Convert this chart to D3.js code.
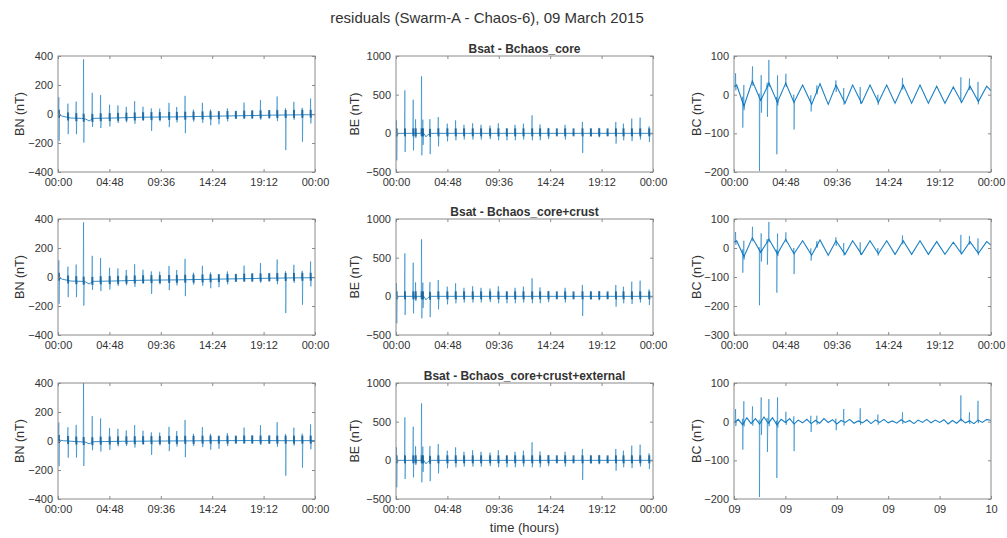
<!DOCTYPE html>
<html>
<head>
<meta charset="utf-8">
<script src="https://cdn.jsdelivr.net/npm/d3@7"></script>
<style>
  body { margin: 0; background: #fff; }
  svg text { font-family: "Liberation Sans", Arial, Helvetica, sans-serif; fill: #333; }
</style>
</head>
<body>
<svg id="fig" width="1007" height="538"></svg>
<script>
// ---- axis ticks and labels -------------------------------------------------
const tickHours = [0, 4.8, 9.6, 14.4, 19.2, 24];
const clockLabels = ["00:00", "04:48", "09:36", "14:24", "19:12", "00:00"];
const dayLabels = ["09", "09", "09", "09", "09", "10"];
const rowTitles = ["Bsat - Bchaos_core", "Bsat - Bchaos_core+crust", "Bsat - Bchaos_core+crust+external"];
const componentLabels = ["BN (nT)", "BE (nT)", "BC (nT)"];

// ---- polar crossings: time (h) and excursion above / below the baseline (nT)
const bnTimes = [0.09, 0.94, 1.71, 2.40, 3.21, 3.99, 4.83, 5.61, 6.39, 7.17, 7.95, 8.73, 9.51, 10.38, 11.10, 11.88,
  12.66, 13.50, 14.25, 15.02, 15.83, 16.61, 17.39, 18.14, 18.92, 19.73, 20.48, 21.26, 22.04, 22.82, 23.60];
const bnHigh = [120, 95, 115, 410, 180, 160, 92, 86, 74, 112, 72, 60, 58, 97, 68, 144,
  48, 94, 47, 25, 52, 28, 90, 36, 106, 36, 128, 46, 90, 48, 112];
const bnLow = [-180, -115, -110, -165, -55, -68, -58, -35, -32, -44, -24, -95, -30, -70, -38, -113,
  -35, -44, -62, -56, -37, -18, -18, -20, -30, -22, -42, -242, -34, -186, -60];

const beTimes = [0.06, 0.84, 1.62, 1.84, 2.40, 2.52, 3.18, 3.96, 4.80, 5.58, 6.36, 7.17, 7.95, 8.79, 9.57, 10.35,
  11.13, 11.91, 12.72, 13.46, 14.24, 15.02, 15.80, 16.58, 17.42, 18.20, 18.98, 19.76, 20.54, 21.25, 22.03, 22.81, 23.65];
const beHigh = [168, 556, 435, 181, 737, 177, 190, 211, 125, 168, 110, 130, 110, 100, 130, 60,
  110, 125, 233, 115, 70, 20, 110, 20, 147, 60, 70, 40, 147, 125, 190, 203, 90];
const beLow = [-349, -241, -220, -60, -284, -150, -263, -168, -103, -90, -80, -80, -80, -75, -90, -90,
  -90, -80, -90, -90, -75, -20, -80, -20, -254, -40, -50, -30, -134, -90, -100, -80, -112];

const bcTimes = [0.16, 0.81, 0.93, 1.74, 2.37, 2.55, 3.11, 3.27, 3.99, 4.08, 4.86, 5.60, 7.19, 7.75, 9.53,
  10.26, 11.80, 13.45, 15.75, 21.20, 22.00, 22.80];
const bcHigh = [32, 15, 55, 40, 10, 62, 10, 60, 10, 68, 26, 20, 20, 15, 12, 33, 35, 18, 22, 62, 22, 50];
const bcLow = [-12, -65, -10, -10, -190, -35, -78, -10, -138, -10, -8, -70, -22, -8, -18, -10, -8, -8, -8, -5, -8, -8];

// ---- slowly varying residual level between crossings: [time (h), nT] ----
const bnBaseCore = [[0, -2], [0.4, -15], [1.2, -28], [2.2, -30], [2.6, -35], [2.9, -48], [3.3, -30], [5, -28],
  [8, -22], [11, -20], [14, -16], [17, -12], [20, -8], [22, -6], [24, -5]];
const bnBaseExternal = [[0, 8], [0.5, 2], [1.5, -3], [2.6, -8], [2.9, -20], [3.3, -5], [6, -2], [10, 0],
  [14, 2], [18, 3], [22, 2], [24, 3]];
const beBase = [[0, 0], [2.6, 0], [2.8, -45], [3.0, -15], [3.3, 0], [24, 0]];
// orbital oscillation left in the radial component before the external field is removed
const bcBaseCore = [[0, 20], [0.25, 25], [0.93, -30], [1.71, 35], [2.49, -15], [3.27, 30], [4.05, -20], [4.83, 30],
  [5.6, -20], [6.41, 25], [7.25, -25], [8.03, 28], [8.8, -25], [9.53, 25], [10.37, -22], [11.08, 25], [11.92, -22],
  [12.7, 25], [13.48, -20], [14.26, 25], [15.04, -22], [15.81, 25], [16.59, -22], [17.37, 25], [18.15, -22],
  [18.93, 22], [19.7, -22], [20.48, 20], [21.26, -20], [22.04, 22], [22.82, -18], [23.6, 22], [24, 10]];
// radial level after the external field is removed, one value every 0.4 h
const bcExternalStep = 0.4;
const bcBaseExternalValues = [-3, 6, -8, 10, -5, 8, -6, 12, -4, 10, -8, 6, -2, 8, -6, 4, -3, 6, -5, 3, -4, 8, -2, 5,
  -6, 3, -2, 6, -4, 2, -3, 5, -5, 4, -2, 6, -3, 2, -4, 5, -2, 3, -5, 4, -2, 6, -3, 4, -2, 5, -6, 3, -4, 6, -3, 2,
  -5, 4, -2, 6, 3];
const bcBaseExternal = bcBaseExternalValues.map((v, i) => [i * bcExternalStep, v]);

// ---- y ranges and ticks per panel -----------------------------------------
const bnDomain = [-400, 400], bnTicks = [-400, -200, 0, 200, 400];
const beDomain = [-500, 1000], beTicks = [-500, 0, 500, 1000];
const bcDomains = [[-200, 100], [-300, 100], [-200, 100]];
const bcTicks = [[-200, -100, 0, 100], [-300, -200, -100, 0, 100], [-200, -100, 0, 100]];

// ---- layout ---------------------------------------------------------------
const colX = [58, 396, 734];
const rowY = [56, 219, 383];
const plotW = 257, plotH = 116;
const tickLen = 3;
const lineColor = "#0072BD";
const frameColor = "#8a8a8a";

const svg = d3.select("#fig");

svg.append("text")
  .attr("x", 487).attr("y", 23)
  .attr("text-anchor", "middle")
  .style("font-size", "15px")
  .text("residuals (Swarm-A - Chaos-6), 09 March 2015");

function levelScale(base) {
  return d3.scaleLinear().domain(base.map(d => d[0])).range(base.map(d => d[1])).clamp(true);
}

function buildSpikes(level, times, high, low) {
  return times.map((t, i) => [[t - 0.05, level(t - 0.05)], [t - 0.012, level(t) + high[i]],
    [t + 0.012, level(t) + low[i]], [t + 0.05, level(t + 0.05)]]);
}

const panels = [];
for (let r = 0; r < 3; r++) {
  panels.push({ r, c: 0, base: r === 2 ? bnBaseExternal : bnBaseCore, times: bnTimes, high: bnHigh, low: bnLow,
    domain: bnDomain, ticks: bnTicks, blob: true, baseWidth: 0.9 });
  panels.push({ r, c: 1, base: beBase, times: beTimes, high: beHigh, low: beLow,
    domain: beDomain, ticks: beTicks, blob: true, baseWidth: 0.9 });
  panels.push({ r, c: 2, base: r === 2 ? bcBaseExternal : bcBaseCore, times: bcTimes, high: bcHigh, low: bcLow,
    domain: bcDomains[r], ticks: bcTicks[r], blob: false, baseWidth: 1.1 });
}

panels.forEach((p, k) => {
  const g = svg.append("g").attr("transform", `translate(${colX[p.c]},${rowY[p.r]})`);
  const x = d3.scaleLinear().domain([0, 24]).range([0, plotW]);
  const y = d3.scaleLinear().domain(p.domain).range([plotH, 0]);
  const line = d3.line().x(d => x(d[0])).y(d => y(d[1]));

  const clipId = "clip" + k;
  g.append("clipPath").attr("id", clipId)
    .append("rect").attr("width", plotW).attr("height", plotH);

  const level = levelScale(p.base);
  const plot = g.append("g").attr("clip-path", `url(#${clipId})`);

  // crossing excursions
  plot.selectAll("path.spike")
    .data(buildSpikes(level, p.times, p.high, p.low))
    .join("path")
    .attr("class", "spike")
    .attr("fill", "none")
    .attr("stroke", lineColor)
    .attr("stroke-width", 1)
    .attr("stroke-opacity", 0.5)
    .attr("d", line);

  // residual level
  plot.append("path")
    .datum(p.base)
    .attr("fill", "none")
    .attr("stroke", lineColor)
    .attr("stroke-width", p.baseWidth)
    .attr("stroke-opacity", 0.9)
    .attr("d", line);

  if (p.blob) {
    plot.selectAll("rect.core")
      .data(p.times)
      .join("rect")
      .attr("class", "core")
      .attr("x", t => x(t) - 1)
      .attr("y", t => y(level(t)) - 5)
      .attr("width", 2)
      .attr("height", 8)
      .attr("fill", "#14609a")
      .attr("opacity", 0.85);
  }

  // frame
  g.append("rect")
    .attr("width", plotW).attr("height", plotH)
    .attr("fill", "none").attr("stroke", frameColor).attr("stroke-width", 1);

  const labels = (p.r === 2 && p.c === 2) ? dayLabels : clockLabels;
  const xAxis = g.append("g").attr("transform", `translate(0,${plotH})`)
    .call(d3.axisBottom(x).tickValues(tickHours).tickFormat((d, i) => labels[i])
      .tickSize(-tickLen).tickPadding(6));
  const xTop = g.append("g")
    .call(d3.axisTop(x).tickValues(tickHours).tickFormat("").tickSize(-tickLen));
  const yAxis = g.append("g")
    .call(d3.axisLeft(y).tickValues(p.ticks).tickFormat(d3.format("d")).tickSize(-tickLen).tickPadding(5));
  const yRight = g.append("g").attr("transform", `translate(${plotW},0)`)
    .call(d3.axisRight(y).tickValues(p.ticks).tickFormat("").tickSize(-tickLen));

  [xAxis, xTop, yAxis, yRight].forEach(a => {
    a.select(".domain").remove();
    a.selectAll("line").attr("stroke", frameColor);
    a.selectAll("text").style("font-size", "11px").attr("fill", "#333");
  });

  // component label
  g.append("text")
    .attr("transform", `translate(${[20, 355, 697][p.c] - colX[p.c]},${plotH / 2}) rotate(-90)`)
    .attr("text-anchor", "middle")
    .attr("dominant-baseline", "central")
    .style("font-size", "12.5px")
    .text(componentLabels[p.c]);

  if (p.c === 1) {
    g.append("text")
      .attr("x", plotW / 2).attr("y", -3)
      .attr("text-anchor", "middle")
      .style("font-size", "12px")
      .style("font-weight", "bold")
      .attr("fill", "#222")
      .text(rowTitles[p.r]);
  }
  if (p.c === 1 && p.r === 2) {
    g.append("text")
      .attr("x", plotW / 2).attr("y", plotH + 33)
      .attr("text-anchor", "middle")
      .style("font-size", "13px")
      .text("time (hours)");
  }
});
</script>
</body>
</html>
